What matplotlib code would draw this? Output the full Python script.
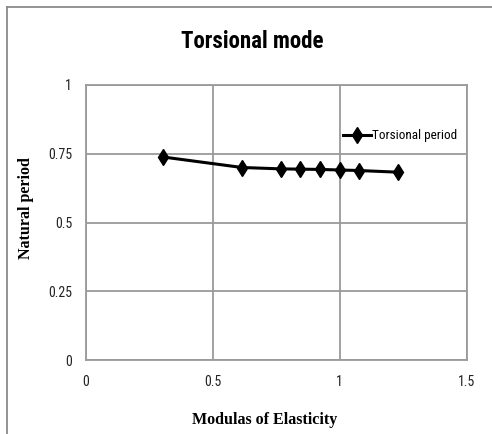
import matplotlib
matplotlib.use("Agg")
import matplotlib.pyplot as plt
from matplotlib.lines import Line2D

modulus = [0.305, 0.615, 0.768, 0.845, 0.921, 0.999, 1.075, 1.228]
period = [0.738, 0.700, 0.695, 0.694, 0.693, 0.691, 0.689, 0.683]
series_label = "Torsional period"
x_ticks = [0, 0.5, 1, 1.5]
y_ticks = [0, 0.25, 0.5, 0.75, 1]

narrow = ["Liberation Sans Narrow", "Roboto Condensed", "Lato", "DejaVu Sans"]
serif = ["Liberation Serif", "DejaVu Serif"]

W, H = 492, 434
fig = plt.figure(figsize=(W/100, H/100), dpi=100)
ax = fig.add_axes([86/W, 1-360/H, (466.7-86)/W, (360-85)/H])

ax.plot(modulus, period, color="black", lw=2.2, marker="d", ms=8.5,
        mfc="black", mec="black", label=series_label)
ax.set_xlim(0, 1.5)
ax.set_ylim(0, 1)
ax.set_xticks(x_ticks)
ax.set_xticklabels([f"{v:g}" for v in x_ticks])
ax.set_yticks(y_ticks)
ax.set_yticklabels([f"{v:g}" for v in y_ticks])
ax.grid(True, color="#9a9a9a", lw=1.3)
ax.set_axisbelow(True)
for s in ax.spines.values():
    s.set_color("#9a9a9a")
    s.set_linewidth(1.3)
ax.tick_params(length=0, labelsize=10, colors="#222222")
ax.tick_params(axis="x", pad=11)
ax.tick_params(axis="y", pad=10)
for lab in ax.get_xticklabels() + ax.get_yticklabels():
    lab.set_family(narrow)

ax.set_xlabel("Modulas of Elasticity", family=serif, weight="bold", fontsize=11.5)
ax.xaxis.set_label_coords(0.47, -0.19)
ax.set_ylabel("Natural period", family=serif, weight="bold", fontsize=11.5)
ax.yaxis.set_label_coords(-0.137, 0.553)
fig.text(252/W, 1-41/H, "Torsional mode", ha="center", va="center",
         family=narrow, weight="bold", fontsize=16.5)

leg = ax.legend(loc="center right", bbox_to_anchor=(1.0, 0.815), frameon=False,
                prop={"family": narrow, "size": 9.5}, handlelength=2.1,
                handletextpad=0.1, borderaxespad=0.3)

c = "#8a8a8a"
fig.add_artist(Line2D([7/W, 7/W], [0, 1-7/H], color=c, lw=1.3, transform=fig.transFigure))
fig.add_artist(Line2D([7/W, 1], [1-7/H, 1-7/H], color=c, lw=1.3, transform=fig.transFigure))

fig.savefig("out.png", dpi=100)
